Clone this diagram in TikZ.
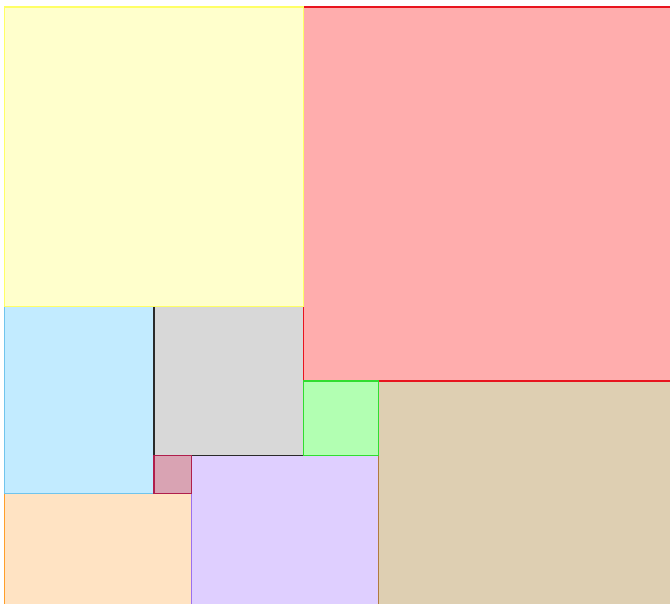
\documentclass[tikz,border=0pt]{standalone}
\usepackage{tikz}
\tikzset{every picture/.style={line width=0.75pt}}
\tikzset{tile/.style={line width=1pt}}

\definecolor{yellowfill}{HTML}{FFFFCC}
\definecolor{yellowline}{HTML}{FFFF66}
\definecolor{redfill}{HTML}{FFADAD}
\definecolor{redline}{HTML}{E8141E}
\definecolor{bluefill}{HTML}{C2EBFF}
\definecolor{blueline}{HTML}{70C4EC}
\definecolor{greyfill}{HTML}{D8D8D8}
\definecolor{greyline}{HTML}{2A2A2A}
\definecolor{greenfill}{HTML}{B2FFB2}
\definecolor{greenline}{HTML}{30DD30}
\definecolor{pinkfill}{HTML}{D9A3B3}
\definecolor{pinkline}{HTML}{B01E4C}
\definecolor{peachfill}{HTML}{FFE3C3}
\definecolor{peachline}{HTML}{FF9E2A}
\definecolor{purplefill}{HTML}{DFCFFF}
\definecolor{purpleline}{HTML}{9A70F0}
\definecolor{brownfill}{HTML}{DECFB2}
\definecolor{brownline}{HTML}{B07A40}

\begin{document}
\begin{tikzpicture}[x=1cm,y=-1cm]
    % Rahmen (Bild ist unten und rechts abgeschnitten)
    \useasboundingbox (-0.12,-0.187) rectangle (17.794,15.936);
    \fill[white] (-0.12,-0.187) rectangle (17.794,15.936);
    \clip (-0.12,-0.187) rectangle (17.794,15.936);

    % untere Reihe zuerst
    \draw[tile,draw=peachline,fill=peachfill] (0,13) rectangle (5,18);
    \draw[tile,draw=purpleline,fill=purplefill] (5,12) rectangle (10,17);
    \draw[tile,draw=brownline,fill=brownfill] (10,10) rectangle (18,18);

    % mittlere Reihe
    \draw[tile,draw=blueline,fill=bluefill] (0,8) rectangle (4,13);
    \draw[tile,draw=greyline,fill=greyfill] (4,8) rectangle (8,12);

    % obere Reihe
    \draw[tile,draw=redline,fill=redfill] (8,0) rectangle (18,10);
    \draw[tile,draw=yellowline,fill=yellowfill] (0,0) rectangle (8,8);

    % kleine Felder
    \draw[tile,draw=greenline,fill=greenfill] (8,10) rectangle (10,12);
    \draw[tile,draw=pinkline,fill=pinkfill] (4,12) rectangle (5,13);
\end{tikzpicture}
\end{document}
